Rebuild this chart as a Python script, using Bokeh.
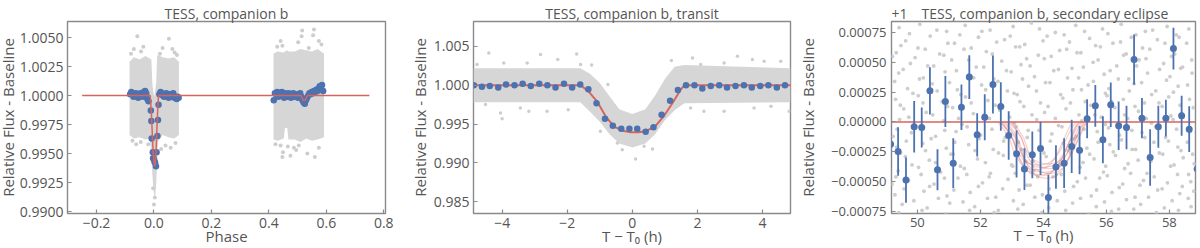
from bokeh.plotting import figure
from bokeh.layouts import row
from bokeh.models import FixedTicker
from bokeh.embed import file_html
from bokeh.resources import INLINE

FONT = "Open Sans"
TXT = "#555555"
FRAME = "#8a8a8a"
BLUE = "#4c72b0"
RED = "#d9645c"
CLOUD = "#d6d6d6"
DOT = "#cdcdcd"

# ---------------- Panel 1 : phase-folded light curve ----------------
p1_model_phase = [-0.25, -0.013, -0.009, -0.006, -0.003, 0.001, 0.004, 0.007, 0.010, 0.013, 0.016,
                  0.512, 0.519, 0.527, 0.534, 0.75]
p1_model_flux = [1.0, 1.0, 0.9985, 0.9968, 0.9952, 0.9941, 0.9939, 0.9950, 0.9970, 0.9988, 1.0,
                 1.0, 0.9996, 0.9996, 1.0, 1.0]

p1_bin_phase = [-0.083, -0.079, -0.075, -0.071, -0.067, -0.063, -0.059, -0.055, -0.051, -0.047, -0.043,
                -0.039, -0.035, -0.031, -0.027, -0.023, -0.019,
                -0.011, -0.009, -0.008, -0.004, -0.003, 0.000, 0.002, 0.004, 0.007, 0.009, 0.012, 0.014, 0.016,
                0.019, 0.023, 0.027, 0.031, 0.035, 0.039, 0.043, 0.047, 0.051, 0.055, 0.059, 0.063, 0.067,
                0.071, 0.075, 0.079, 0.083, 0.086,
                0.417, 0.421, 0.425, 0.429, 0.433, 0.437, 0.441, 0.445, 0.449, 0.453, 0.457, 0.461, 0.465,
                0.469, 0.473, 0.477, 0.481, 0.485, 0.489, 0.493, 0.497, 0.501, 0.505, 0.509, 0.513, 0.517,
                0.521, 0.525, 0.529, 0.533, 0.537, 0.541, 0.545, 0.549, 0.553, 0.557, 0.561, 0.565, 0.569,
                0.573, 0.577, 0.581, 0.585, 0.589]
p1_bin_flux = [1.0001, 1.0003, 1.0002, 0.9999, 1.0001, 1.0002, 1.0000, 0.9998, 1.0001, 1.0002, 1.0001,
               0.9999, 1.0003, 1.0004, 1.0002, 0.9997, 0.9995,
               0.9987, 0.9978, 0.9963, 0.9951, 0.9946, 0.9945, 0.9943, 0.9942, 0.9939, 0.9951, 0.9965, 0.9979, 0.9992,
               1.0001, 1.0003, 1.0002, 1.0000, 0.9999, 1.0001, 1.0002, 1.0000, 0.9998, 1.0001, 1.0000, 0.9999, 1.0002,
               0.9998, 0.9999, 0.9997, 0.9999, 0.9998,
               0.9996, 1.0002, 1.0001, 1.0003, 0.9999, 1.0002, 1.0000, 1.0003, 1.0001, 0.9998, 1.0002, 1.0001, 0.9999,
               1.0002, 1.0000, 0.9998, 1.0001, 1.0002, 0.9999, 1.0001, 1.0000, 0.9998, 1.0001, 1.0002, 0.9999, 0.9996,
               0.9994, 0.9993, 0.9996, 0.9998, 1.0000, 1.0002, 1.0001, 1.0003, 1.0002, 1.0004, 1.0003, 1.0005, 1.0004,
               1.0006, 1.0008, 1.0007, 1.0009, 1.0004]

# dense raw-data cloud (envelopes)
p1_cloud1_phase = [-0.085, -0.07, -0.05, -0.03, -0.015, -0.009, -0.006, -0.003, 0.001, 0.004, 0.008, 0.011,
                   0.014, 0.03, 0.05, 0.07, 0.087]
p1_cloud1_hi = [1.0029, 1.0033, 1.0031, 1.0034, 1.0032, 1.0031, 1.0012, 1.0004, 0.9999, 1.0004, 1.0012, 1.0034,
                1.0035, 1.0033, 1.0032, 1.0033, 1.0029]
p1_cloud1_lo = [0.9966, 0.9963, 0.9964, 0.9962, 0.9963, 0.9950, 0.9934, 0.9922, 0.9914, 0.9912, 0.9924, 0.9942,
                0.9960, 0.9966, 0.9964, 0.9963, 0.9966]
p1_cloud2_phase = [0.416, 0.43, 0.452, 0.456, 0.464, 0.468, 0.49, 0.51, 0.53, 0.55, 0.57, 0.592]
p1_cloud2_hi = [1.0036, 1.0038, 1.0037, 1.0038, 1.0039, 1.0038, 1.0038, 1.0040, 1.0039, 1.0038, 1.0040, 1.0036]
p1_cloud2_lo = [0.9962, 0.9961, 0.9963, 0.9972, 0.9972, 0.9962, 0.9962, 0.9960, 0.9963, 0.9961, 0.9962, 0.9964]

p1_out_phase = [-0.058, -0.070, -0.037, -0.045, 0.052, 0.064, 0.021, 0.030, 0.072, -0.075, -0.046, -0.062,
                0.058, 0.040, 0.075, 0.000, -0.003, 0.003, -0.080, 0.080, -0.020, 0.025,
                0.516, 0.557, 0.554, 0.514, 0.441, 0.447, 0.502, 0.539, 0.574, 0.429, 0.441, 0.449, 0.447,
                0.475, 0.504, 0.534, 0.560, 0.574, 0.487, 0.423, 0.466, 0.583, 0.495]
p1_out_flux = [1.0051, 1.0040, 1.0042, 1.0038, 1.0049, 1.0040, 1.0036, 1.0041, 1.0037, 0.9961, 0.9960, 0.9958,
               0.9955, 0.9957, 0.9959, 0.9906, 0.9920, 0.9912, 1.0036, 1.0035, 0.9958, 0.9954,
               1.0056, 1.0057, 1.0052, 1.0051, 1.0047, 1.0043, 1.0046, 1.0041, 1.0047, 1.0042, 0.9957, 0.9951, 0.9947,
               0.9948, 0.9957, 0.9950, 0.9947, 0.9955, 0.9955, 0.9958, 0.9956, 1.0044, 0.9953]

# ---------------- Panel 2 : transit ----------------
p2_model_t = [-4.9, -1.58, -1.3, -1.08, -0.82, -0.56, -0.30, -0.05, 0.20, 0.46, 0.72, 0.97, 1.23, 1.48, 1.60, 4.9]
p2_model_flux = [1.0, 1.0, 0.9990, 0.9979, 0.9960, 0.99467, 0.99415, 0.99394, 0.99394, 0.99415, 0.9948,
                 0.99604, 0.99768, 0.9994, 1.0, 1.0]
p2_bin_t = [-4.87, -4.62, -4.38, -4.12, -3.88, -3.62, -3.37, -3.12, -2.86, -2.61, -2.36, -2.10, -1.85, -1.60,
            -1.35, -1.10, -0.84, -0.60, -0.34, -0.09, 0.15, 0.41, 0.65, 0.90, 1.16, 1.40, 1.65, 1.91, 2.15,
            2.41, 2.67, 2.91, 3.17, 3.43, 3.67, 3.93, 4.18, 4.44, 4.69]
p2_bin_flux = [1.0000, 0.9998, 0.9999, 0.9997, 1.0001, 1.0000, 1.0002, 0.9999, 1.0002, 1.0000, 0.9997, 1.0002,
               0.9997, 1.0001, 0.9995, 0.9977, 0.9957, 0.9948, 0.9944, 0.9944, 0.9944, 0.9940, 0.9946, 0.9962,
               0.9980, 0.9994, 1.0000, 1.0000, 0.9996, 0.9999, 1.0000, 0.9997, 0.9999, 1.0000, 0.9997, 0.9999,
               1.0000, 0.9997, 1.0000]
p2_cloud_t = [-4.88, -1.6, -1.3, -1.0, -0.7, -0.4, 0.0, 0.4, 0.7, 1.0, 1.3, 1.6, 4.86]
p2_cloud_hi = [1.0022, 1.0022, 1.0015, 1.0003, 0.9986, 0.9969, 0.9963, 0.9969, 0.9987, 1.0008, 1.0024, 1.0026, 1.0022]
p2_cloud_lo = [0.9978, 0.9978, 0.9966, 0.9953, 0.9937, 0.9925, 0.9920, 0.9925, 0.9937, 0.9955, 0.9968, 0.9977, 0.9978]
p2_out_t = [-4.41, -3.95, -2.82, -1.71, -2.29, -4.77, -3.23, -4.00, -4.05, -3.18, -2.62, -1.97, -4.51, -3.44,
            -1.59, 0.10, -0.46, -0.31, 0.36, -0.98, 1.85, 2.10, 2.82, 3.23, 3.69, 4.05, 4.56, 1.79, 2.20,
            2.82, 3.74, 4.26, 4.82, -0.75, 0.62, 1.20, -1.25]
p2_out_flux = [1.00417, 1.00288, 1.00396, 1.00404, 1.00331, 1.00267, 1.00288, 0.99570, 0.99643, 0.99665,
               0.99665, 0.99686, 0.99751, 0.99708, 1.00267, 0.99050, 0.99256, 0.99170, 0.99213, 0.99407,
               1.00353, 1.00267, 1.00288, 1.00374, 1.00331, 1.00310, 1.00310, 0.99708, 0.99665, 0.99665,
               0.99708, 0.99729, 0.99665, 1.00010, 0.99180, 1.00320, 1.00260]

# ---------------- Panel 3 : secondary eclipse (flux - 1) ----------------
p3_bin_t = [49.15, 49.39, 49.64, 49.90, 50.14, 50.40, 50.64, 50.89, 51.14, 51.40, 51.65, 51.90, 52.14, 52.40,
            52.65, 52.90, 53.15, 53.40, 53.65, 53.91, 54.16, 54.40, 54.66, 54.90, 55.15, 55.39, 55.65, 55.89,
            56.14, 56.39, 56.64, 56.88, 57.13, 57.39, 57.65, 57.89, 58.13, 58.39, 58.63, 58.88]
p3_bin_flux = [-0.000186, -0.000247, -0.000487, -0.000040, -0.000046, 0.000261, -0.000401, 0.000172, -0.000345,
               0.000124, 0.000376, -0.000108, 0.000040, 0.000314, 0.000130, -0.000113, -0.000267, -0.000395,
               -0.000275, -0.000222, -0.000633, -0.000378, -0.000345, -0.000205, -0.000236, 0.000027, 0.000135,
               -0.000149, 0.000144, -0.000032, -0.000046, 0.000524, 0.000032, -0.000297, -0.000040, 0.000032,
               0.000615, 0.000052, -0.000060, -0.000395]
p3_bin_err = [0.00019, 0.000203, 0.000189, 0.000216, 0.000168, 0.000198, 0.000172, 0.000214, 0.000209, 0.000191,
              0.000184, 0.000182, 0.000193, 0.000244, 0.000203, 0.000203, 0.000198, 0.000175, 0.000196, 0.000223,
              0.00019, 0.000182, 0.000209, 0.000223, 0.000203, 0.000163, 0.000175, 0.000196, 0.000186, 0.000203,
              0.000182, 0.000209, 0.000168, 0.000237, 0.000175, 0.000154, 0.000175, 0.000168, 0.000191, 0.00019]

# posterior eclipse models: first/last contact (h) and depth, drawn with one shared profile shape
p3_samp_t1 = [52.55, 52.62, 52.68, 52.72, 52.78, 52.85, 52.90, 52.95, 53.00, 52.65]
p3_samp_t4 = [54.95, 55.05, 55.12, 55.20, 55.25, 55.30, 55.35, 55.38, 55.42, 55.15]
p3_samp_depth = [0.00040, 0.00036, 0.00045, 0.00038, 0.00042, 0.00047, 0.00035, 0.00043, 0.00039, 0.00044]
profile_frac = [0.0, 0.088, 0.157, 0.222, 0.305, 0.387, 0.469, 0.547, 0.626, 0.708, 0.790, 0.868, 0.950, 1.0]
profile_depth = [0.0, 0.17, 0.35, 0.66, 0.88, 0.97, 1.0, 1.0, 0.97, 0.87, 0.66, 0.39, 0.10, 0.0]

p3_grey = [
    (49.42, 0.00079), (50.08, 0.00082), (50.93, 0.00076), (51.52, 0.00081), (52.31, 0.00077), (53.04, 0.00080),
    (53.62, 0.00083), (54.38, 0.00075), (55.03, 0.00081), (55.88, 0.00078), (56.47, 0.00082), (57.24, 0.00076),
    (57.93, 0.00080), (49.63, 0.00068), (50.41, 0.00072), (51.18, 0.00066), (51.94, 0.00071), (52.77, 0.00069),
    (53.41, 0.00065), (54.12, 0.00072), (54.83, 0.00067), (55.47, 0.00070), (56.21, 0.00066), (56.94, 0.00073),
    (57.62, 0.00069), (58.31, 0.00071), (49.33, 0.00058), (50.02, 0.00062), (50.71, 0.00057), (51.48, 0.00061),
    (52.19, 0.00059), (53.12, 0.00063), (53.84, 0.00056), (54.52, 0.00060), (55.19, 0.00058), (55.81, 0.00063),
    (56.63, 0.00057), (57.38, 0.00061), (58.07, 0.00055), (49.78, 0.00049), (50.52, 0.00047), (51.09, 0.00052),
    (51.87, 0.00046), (52.68, 0.00051), (53.29, 0.00048), (54.03, 0.00053), (54.91, 0.00045), (55.58, 0.00050),
    (56.33, 0.00047), (57.04, 0.00052), (57.82, 0.00049), (58.42, 0.00046), (49.41, 0.00041), (50.19, 0.00037),
    (50.88, 0.00042), (51.61, 0.00039), (52.43, 0.00036), (52.98, 0.00042), (53.72, 0.00038), (54.33, 0.00043),
    (55.12, 0.00037), (55.93, 0.00040), (56.71, 0.00036), (57.31, 0.00041), (58.02, 0.00038), (49.69, 0.00028),
    (50.47, 0.00032), (51.27, 0.00027), (52.04, 0.00031), (52.86, 0.00026), (53.53, 0.00030), (54.21, 0.00033),
    (54.94, 0.00027), (55.42, 0.00031), (56.08, 0.00028), (56.88, 0.00032), (57.57, 0.00026), (58.28, 0.00030),
    (49.31, 0.00019), (50.03, 0.00022), (50.79, 0.00017), (51.53, 0.00021), (52.24, 0.00018), (53.17, 0.00023),
    (53.91, 0.00016), (54.62, 0.00020), (55.33, 0.00017), (56.02, 0.00022), (56.54, 0.00019), (57.21, 0.00016),
    (57.98, 0.00021), (49.57, 0.00011), (50.28, 0.00008), (51.12, 0.00012), (51.78, 0.00007), (52.61, 0.00010),
    (53.38, 0.00013), (54.04, 0.00008), (54.72, 0.00011), (55.63, 0.00006), (56.27, 0.00012), (57.02, 0.00009),
    (57.77, 0.00013), (58.39, 0.00007), (49.44, 0.00002), (50.12, -0.00003), (50.83, 0.00001), (51.42, -0.00002),
    (52.29, 0.00003), (53.08, -0.00001), (53.79, 0.00002), (54.48, -0.00003), (55.22, 0.00001), (55.97, -0.00002),
    (56.68, 0.00003), (57.43, -0.00001), (58.12, 0.00002), (49.81, -0.00009), (50.58, -0.00012), (51.23, -0.00008),
    (52.01, -0.00011), (52.79, -0.00013), (53.52, -0.00007), (54.27, -0.00010), (55.04, -0.00012), (55.71, -0.00008),
    (56.42, -0.00011), (57.13, -0.00009), (57.88, -0.00013), (49.34, -0.00021), (50.17, -0.00018), (50.92, -0.00022),
    (51.63, -0.00019), (52.41, -0.00023), (53.21, -0.00017), (53.93, -0.00021), (54.64, -0.00018), (55.38, -0.00022),
    (56.11, -0.00019), (56.82, -0.00023), (57.51, -0.00017), (58.27, -0.00021), (49.62, -0.00029), (50.38, -0.00032),
    (51.14, -0.00027), (51.91, -0.00031), (52.73, -0.00028), (53.44, -0.00033), (54.09, -0.00029), (54.87, -0.00026),
    (55.61, -0.00031), (56.29, -0.00028), (57.01, -0.00032), (57.79, -0.00027), (58.44, -0.00030), (49.39, -0.00041),
    (50.04, -0.00038), (50.74, -0.00042), (51.49, -0.00039), (52.32, -0.00043), (53.03, -0.00037), (53.69, -0.00041),
    (54.41, -0.00044), (55.17, -0.00038), (55.91, -0.00042), (56.58, -0.00039), (57.29, -0.00043), (58.04, -0.00037),
    (49.72, -0.00049), (50.53, -0.00052), (51.29, -0.00047), (52.07, -0.00051), (52.88, -0.00048), (53.58, -0.00053),
    (54.31, -0.00046), (55.08, -0.00050), (55.79, -0.00047), (56.52, -0.00052), (57.18, -0.00049), (57.94, -0.00051),
    (49.29, -0.00061), (50.21, -0.00058), (50.94, -0.00062), (51.68, -0.00059), (52.49, -0.00063), (53.23, -0.00057),
    (53.97, -0.00061), (54.68, -0.00058), (55.52, -0.00062), (56.18, -0.00059), (56.91, -0.00063), (57.63, -0.00057),
    (58.33, -0.00060), (49.52, -0.00069), (50.31, -0.00072), (51.03, -0.00068), (51.82, -0.00071), (52.57, -0.00074),
    (53.36, -0.00069), (54.17, -0.00072), (54.93, -0.00068), (55.68, -0.00071), (56.39, -0.00073), (57.09, -0.00069),
    (57.84, -0.00072),
    (49.75, 0.00074), (50.62, 0.00077), (51.35, 0.00073), (52.05, 0.00076), (52.95, 0.00072), (53.88, 0.00078),
    (54.66, 0.00073), (55.31, 0.00076), (56.05, 0.00074), (56.79, 0.00071), (57.47, 0.00077), (58.22, 0.00073),
    (49.48, 0.00064), (50.25, 0.00061), (50.97, 0.00066), (51.71, 0.00062), (52.52, 0.00067), (53.25, 0.00063),
    (53.99, 0.00068), (54.74, 0.00061), (55.66, 0.00064), (56.45, 0.00067), (57.15, 0.00062), (57.86, 0.00066),
    (49.93, 0.00054), (50.84, 0.00056), (51.63, 0.00052), (52.38, 0.00057), (53.47, 0.00053), (54.25, 0.00055),
    (55.07, 0.00058), (55.74, 0.00052), (56.55, 0.00056), (57.26, 0.00053), (58.17, 0.00057), (49.55, 0.00044),
    (50.33, 0.00047), (51.24, 0.00043), (52.11, 0.00046), (52.83, 0.00043), (53.58, 0.00047), (54.48, 0.00044),
    (55.27, 0.00046), (56.12, 0.00043), (56.96, 0.00047), (57.69, 0.00044), (58.36, 0.00045), (49.28, 0.00034),
    (50.07, 0.00036), (51.02, 0.00033), (51.79, 0.00037), (52.56, 0.00034), (53.34, 0.00036), (54.07, 0.00033),
    (54.77, 0.00037), (55.59, 0.00034), (56.38, 0.00036), (57.12, 0.00033), (57.91, 0.00035), (49.86, 0.00024),
    (50.63, 0.00026), (51.38, 0.00023), (52.17, 0.00027), (53.07, 0.00024), (53.78, 0.00026), (54.55, 0.00023),
    (55.21, 0.00027), (55.97, 0.00024), (56.73, 0.00026), (57.44, 0.00023), (58.13, 0.00025), (49.46, 0.00014),
    (50.18, 0.00016), (50.96, 0.00013), (51.71, 0.00016), (52.47, 0.00014), (53.26, 0.00017), (54.15, 0.00013),
    (54.86, 0.00016), (55.51, 0.00014), (56.17, 0.00017), (56.91, 0.00013), (57.67, 0.00016), (58.34, 0.00014),
    (49.73, 0.00004), (50.49, 0.00006), (51.31, 0.00003), (52.12, 0.00006), (52.93, 0.00004), (53.64, 0.00006),
    (54.38, 0.00003), (55.13, 0.00006), (55.84, 0.00004), (56.58, 0.00006), (57.27, 0.00003), (58.05, 0.00005),
    (49.36, -0.00006), (50.09, -0.00004), (50.87, -0.00007), (51.58, -0.00004), (52.37, -0.00006), (53.14, -0.00004),
    (53.86, -0.00007), (54.59, -0.00004), (55.29, -0.00006), (56.07, -0.00005), (56.81, -0.00007), (57.56, -0.00004),
    (58.23, -0.00006), (49.65, -0.00016), (50.44, -0.00014), (51.19, -0.00017), (51.96, -0.00014), (52.74, -0.00016),
    (53.49, -0.00013), (54.22, -0.00016), (54.97, -0.00014), (55.74, -0.00017), (56.48, -0.00015), (57.22, -0.00013),
    (57.97, -0.00016), (49.47, -0.00026), (50.26, -0.00024), (51.07, -0.00027), (51.83, -0.00024), (52.58, -0.00026),
    (53.31, -0.00023), (54.02, -0.00026), (54.79, -0.00024), (55.47, -0.00027), (56.22, -0.00025), (56.93, -0.00023),
    (57.68, -0.00026), (58.37, -0.00024), (49.83, -0.00036), (50.58, -0.00034), (51.37, -0.00037), (52.16, -0.00034),
    (52.99, -0.00036), (53.66, -0.00033), (54.51, -0.00036), (55.26, -0.00034), (55.98, -0.00037), (56.69, -0.00035),
    (57.41, -0.00033), (58.15, -0.00036), (49.32, -0.00046), (50.12, -0.00044), (50.86, -0.00047), (51.57, -0.00044),
    (52.28, -0.00046), (53.11, -0.00043), (53.82, -0.00046), (54.57, -0.00044), (55.34, -0.00047), (56.03, -0.00045),
    (56.77, -0.00043), (57.52, -0.00046), (58.26, -0.00044), (49.58, -0.00056), (50.39, -0.00054), (51.16, -0.00057),
    (51.94, -0.00054), (52.71, -0.00056), (53.48, -0.00053), (54.19, -0.00056), (54.96, -0.00054), (55.69, -0.00057),
    (56.41, -0.00055), (57.07, -0.00053), (57.77, -0.00056), (58.41, -0.00054), (49.89, -0.00066), (50.67, -0.00064),
    (51.45, -0.00067), (52.23, -0.00064), (53.05, -0.00066), (53.73, -0.00063), (54.44, -0.00066), (55.18, -0.00064),
    (55.94, -0.00067), (56.64, -0.00065), (57.34, -0.00063), (58.09, -0.00066), (49.41, -0.00076), (50.15, -0.00074),
    (50.91, -0.00077), (51.66, -0.00074), (52.44, -0.00076), (53.19, -0.00073), (53.95, -0.00076), (54.71, -0.00074),
    (55.43, -0.00077), (56.16, -0.00075), (56.87, -0.00073), (57.59, -0.00076), (58.29, -0.00074),
    (58.62, 0.00078), (58.71, 0.00052), (58.58, 0.00031), (58.76, 0.00012), (58.66, -0.00008), (58.74, -0.00027),
    (58.61, -0.00044), (58.78, -0.00058), (58.69, -0.00071), (58.55, 0.00066), (58.72, 0.00041), (58.64, 0.00019),
    (58.57, -0.00017), (58.79, -0.00035), (58.68, -0.00050), (58.60, -0.00064), (49.21, 0.00055), (49.23, -0.00012),
    (49.20, -0.00052),
]

# tick labels
p1_xticks = [-0.2, 0.0, 0.2, 0.4, 0.6, 0.8]
p1_xlabels = ["\u22120.2", "0.0", "0.2", "0.4", "0.6", "0.8"]
p1_yticks = [0.99, 0.9925, 0.995, 0.9975, 1.0, 1.0025, 1.005]
p1_ylabels = ["0.9900", "0.9925", "0.9950", "0.9975", "1.0000", "1.0025", "1.0050"]
p2_xticks = [-4, -2, 0, 2, 4]
p2_xlabels = ["\u22124", "\u22122", "0", "2", "4"]
p2_yticks = [0.985, 0.99, 0.995, 1.0, 1.005]
p2_ylabels = ["0.985", "0.990", "0.995", "1.000", "1.005"]
p3_xticks = [50, 52, 54, 56, 58]
p3_xlabels = ["50", "52", "54", "56", "58"]
p3_yticks = [-0.00075, -0.0005, -0.00025, 0.0, 0.00025, 0.0005, 0.00075]
p3_ylabels = ["\u22120.00075", "\u22120.00050", "\u22120.00025", "0.00000", "0.00025", "0.00050", "0.00075"]

H = 248


def make_fig(width, mbl, mbr, xr, yr, xticks, xlabels, yticks, ylabels, xlabel, title, title_align,
             tick_size, ytick_standoff, ylab_standoff, margin=None):
    p = figure(width=width, height=H, x_range=xr, y_range=yr, output_backend="svg", toolbar_location=None,
               min_border_left=mbl, min_border_right=mbr, min_border_top=21, min_border_bottom=35,
               margin=margin)
    p.grid.visible = False
    p.outline_line_color = FRAME
    p.outline_line_width = 1.4
    p.background_fill_color = "white"
    p.border_fill_color = "white"
    for ax in (p.xaxis[0], p.yaxis[0]):
        ax.axis_line_color = None
        ax.major_tick_in = 4
        ax.major_tick_out = 0
        ax.minor_tick_line_color = None
        ax.major_tick_line_color = FRAME
        ax.major_tick_line_width = 1.2
        ax.major_label_text_font = FONT
        ax.major_label_text_font_size = tick_size
        ax.major_label_text_color = TXT
        ax.axis_label_text_font = FONT
        ax.axis_label_text_font_size = "15px"
        ax.axis_label_text_color = TXT
        ax.axis_label_text_font_style = "normal"
    p.xaxis.ticker = FixedTicker(ticks=xticks)
    p.xaxis.major_label_overrides = dict(zip(xticks, xlabels))
    p.yaxis.ticker = FixedTicker(ticks=yticks)
    p.yaxis.major_label_overrides = dict(zip(yticks, ylabels))
    p.xaxis.major_label_standoff = 4
    p.xaxis.axis_label_standoff = -5
    p.yaxis.major_label_standoff = ytick_standoff
    p.yaxis.axis_label_standoff = ylab_standoff
    p.xaxis.axis_label = xlabel
    p.yaxis.axis_label = "Relative Flux - Baseline"
    p.title.text = title
    p.title.align = title_align
    p.title.text_font = FONT
    p.title.text_font_size = "14px"
    p.title.text_font_style = "normal"
    p.title.text_color = TXT
    p.title.standoff = -3
    return p


# ---- panel 1 ----
f1 = make_fig(406, 75, 13, (-0.301, 0.806), (0.98983, 1.00638), p1_xticks, p1_xlabels, p1_yticks, p1_ylabels,
              "Phase", "TESS, companion b", "center", "14px", 4, -1, margin=(0, 0, 0, -8))
f1.varea(x=p1_cloud1_phase, y1=p1_cloud1_lo, y2=p1_cloud1_hi, fill_color=CLOUD)
f1.varea(x=p1_cloud2_phase, y1=p1_cloud2_lo, y2=p1_cloud2_hi, fill_color=CLOUD)
f1.scatter(p1_out_phase, p1_out_flux, size=4, fill_color=DOT, line_color=None)
f1.scatter(p1_bin_phase, p1_bin_flux, size=6.5, fill_color=BLUE, line_color=None)
f1.line(p1_model_phase, p1_model_flux, line_color=RED, line_width=1.5)

# ---- panel 2 ----
f2 = make_fig(397, 75, 5, (-4.88, 4.86), (0.98348, 1.00822), p2_xticks, p2_xlabels, p2_yticks, p2_ylabels,
              "T \u2212 T\u2080 (h)", "TESS, companion b, transit", "center", "14px", 4, 1)
f2.varea(x=p2_cloud_t, y1=p2_cloud_lo, y2=p2_cloud_hi, fill_color=CLOUD)
f2.scatter(p2_out_t, p2_out_flux, size=3.5, fill_color=DOT, line_color=None)
f2.line(p2_model_t, p2_model_flux, line_color=RED, line_width=2)
f2.scatter(p2_bin_t, p2_bin_flux, size=6.5, fill_color=BLUE, line_color=None)

# ---- panel 3 (title carries the "+1" offset text at the left of the frame) ----
f3 = make_fig(405, 84, 5, (49.18, 58.83), (-0.000767, 0.000842), p3_xticks, p3_xlabels, p3_yticks, p3_ylabels,
              "T \u2212 T\u2080 (h)", "+1\u2002\u2002TESS, companion b, secondary eclipse", "left", "13px", 5, 10)
gx = [g[0] for g in p3_grey]
gy = [g[1] for g in p3_grey]
f3.scatter(gx, gy, size=3.8, fill_color=DOT, line_color=None)
curve_xs, curve_ys = [], []
for t1, t4, d in zip(p3_samp_t1, p3_samp_t4, p3_samp_depth):
    curve_xs.append([t1 + fr * (t4 - t1) for fr in profile_frac])
    curve_ys.append([-d * pd for pd in profile_depth])
f3.multi_line(curve_xs, curve_ys, line_color=RED, line_alpha=0.3, line_width=1.2)
f3.line([49.18, 58.83], [0.0, 0.0], line_color=RED, line_width=1.5)
lo = [y - e for y, e in zip(p3_bin_flux, p3_bin_err)]
hi = [y + e for y, e in zip(p3_bin_flux, p3_bin_err)]
f3.segment(p3_bin_t, lo, p3_bin_t, hi, line_color=BLUE, line_width=1.8)
f3.scatter(p3_bin_t, p3_bin_flux, size=7, fill_color=BLUE, line_color=None)

layout = row(f1, f2, f3)
open("out.html", "w").write(file_html(layout, INLINE))
